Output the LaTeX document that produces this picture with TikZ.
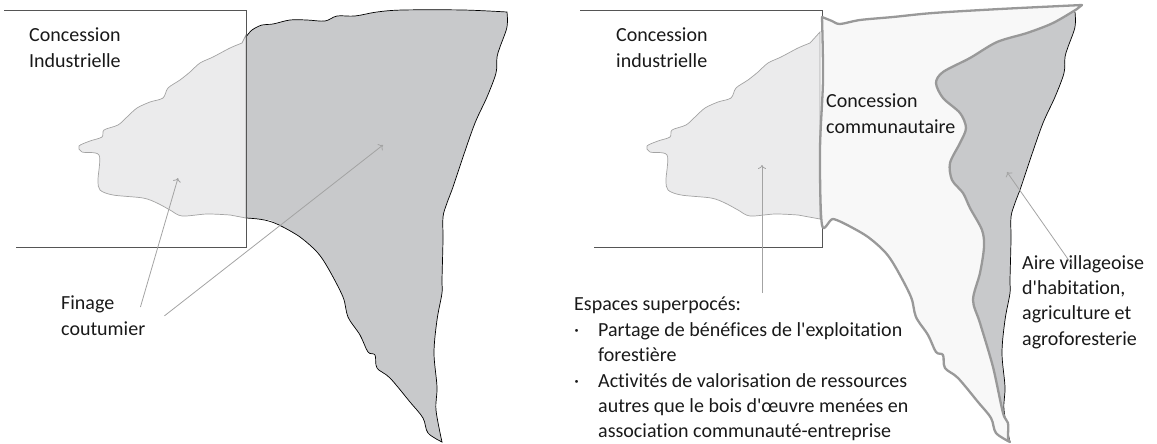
\documentclass[tikz,border=0pt]{standalone}
\usepackage{fontspec}
\setmainfont[Ligatures=NoCommon]{Carlito}
\usetikzlibrary{arrows.meta}

% outline of the village land, in picture pixels
\newcommand{\northedge}{-- plot[smooth,tension=.55] coordinates {(246,37) (252,30) (262,25) (273,24) (290,20) (307,20) (325,21) (337,16) (355,16) (377,12) (403,10) (463,10) (507,12)}}
\newcommand{\eastedge}{-- plot[smooth,tension=.55] coordinates {(507,12) (507,27) (500,47) (497,57) (496,73) (487,97) (475,123) (463,157) (453,187) (447,203) (443,217) (443,240) (442,280) (442,293) (437,320) (434,353) (437,387) (436,410) (442,442)}}
\newcommand{\southedge}{-- plot[smooth,tension=.55] coordinates {(442,442) (428,433) (423,418) (410,402) (390,378) (377,368) (375,355) (368,352) (360,335) (348,317) (343,297) (328,268) (317,252) (300,237) (283,227)}}
% outline of the overlap inside the rectangle
\newcommand{\westlobe}{-- plot[smooth,tension=.5] coordinates {(242,43) (230,48) (213,57) (200,63) (190,72) (180,80) (168,88) (163,98) (150,102) (137,108) (127,117) (118,125) (104,130) (102,137) (90,141) (79,146) (82,152) (99,155) (98,180) (100,190) (113,195) (143,198) (157,203) (170,210) (182,216) (207,214) (230,215)}}

\definecolor{landdark}{HTML}{C8C9CB}
\definecolor{landlight}{HTML}{EBEBEC}
\definecolor{landpale}{HTML}{F8F8F8}
\definecolor{edgegray}{HTML}{A3A3A3}
\definecolor{boundgray}{HTML}{999999}
\definecolor{rectgray}{HTML}{555555}

\tikzset{
	label/.style={font=\fontsize{20}{25.4}\selectfont,align=left,anchor=north west,inner sep=0pt,text=black!90},
	concession/.style={draw=rectgray,line width=0.8pt},
	lobe/.style={draw=edgegray,fill=landlight,line width=0.7pt},
	pointer/.style={draw=edgegray,line width=0.8pt,-{To[length=4pt,width=8pt]}},
	boundary/.style={draw=boundgray,line width=2.3pt,line join=round}
}

\begin{document}
\begin{tikzpicture}[x=1pt,y=-1pt]
	\useasboundingbox (0,0) rectangle (1157,444);
	
	%------------------------------
	% Left panel
	%------------------------------
	\fill[landdark] (246,37) \northedge \eastedge \southedge -- (270,220) -- (246,218) -- cycle;
	\draw[lobe] (246,35) \westlobe -- (246,218) -- cycle;
	\fill[landdark] (246,37) rectangle (250,218);
	\draw[black,line width=0.7pt] (246,37) \northedge \eastedge \southedge;
	\draw[black,line width=0.7pt] (283,227) .. controls (270,220) and (262,219) .. (246,218);
	\draw[concession] (4,10) -- (246,10) -- (246,247) -- (16,247);
	
	\node[label] (industrielle) at (29,28) {Concession\\Industrielle};
	\node[label] (finage) at (61,296) {Finage\\coutumier};
	
	\coordinate (lobetip) at (178,178);
	\coordinate (landtip) at (383,145);
	\draw[pointer] ([xshift=-5pt,yshift=-11pt]finage.north east) -- (lobetip);
	\draw[pointer] ([xshift=19pt]finage.east) -- (landtip);
	
	%------------------------------
	% Right panel
	%------------------------------
	\begin{scope}[shift={(568,0)}]
		\draw[concession] (12,10) -- (254,10) -- (254,247) -- (26,247);
		\draw[lobe] (252,32) \westlobe -- (252,219) -- cycle;
		
		% village area
		\fill[landdark] (507,12) \eastedge -- (400,300) -- (340,80) -- (400,30) -- cycle;
		\draw[black,line width=0.7pt] (507,12) \eastedge;
		
		% community concession
		\draw[boundary,fill=landpale] plot[smooth,tension=.5] coordinates {(254,17) (264,21) (272,24) (292,20) (325,17) (365,13) (432,9) (514,5)}
		-- plot[smooth,tension=.5] coordinates {(509,9) (485,23) (459,33) (429,42) (402,58) (375,72) (368,83) (375,98) (392,113) (398,128) (392,143) (382,163) (384,180) (395,193) (402,208) (414,230) (416,247) (412,273) (405,300) (412,323) (425,367) (435,413) (440,423) (440,438) (442,442)}
		\southedge
		-- plot[smooth,tension=.5] coordinates {(283,227) (265,219) (254,225) (252,150) (255,80) (254,17)} -- cycle;
	\end{scope}
	
	\node[label] (industrielle2) at (616,28) {Concession\\industrielle};
	\node[label] (communautaire) at (826,94) {Concession\\communautaire};
	\node[label] (espaces) at (574,297) {Espaces superpocés:\\
		\makebox[24pt][l]{·}Partage de bénéfices de l\textquotesingle exploitation\\
		\makebox[24pt][l]{}forestière\\
		\makebox[24pt][l]{·}Activités de valorisation de ressources\\
		\makebox[24pt][l]{}autres que le bois d\textquotesingle œuvre menées en\\
		\makebox[24pt][l]{}association communauté-entreprise};
	\node[label] (aire) at (1022,255) {Aire villageoise\\d\textquotesingle habitation,\\agriculture et\\agroforesterie};
	
	\coordinate (superpotip) at (762,165);
	\coordinate (airetip) at (1007,172);
	\draw[pointer] ([yshift=4pt]espaces.north -| superpotip) -- (superpotip);
	\draw[pointer] ([xshift=-11pt,yshift=-10pt]aire.north) -- (airetip);
\end{tikzpicture}
\end{document}
